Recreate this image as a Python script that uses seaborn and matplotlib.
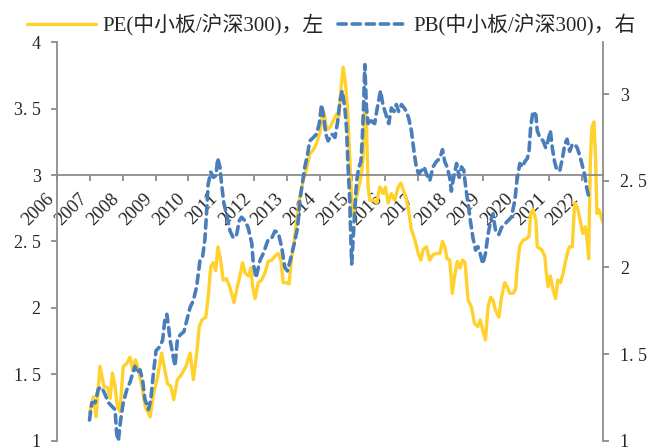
import matplotlib
matplotlib.use("Agg")
import matplotlib.pyplot as plt
import matplotlib.transforms as mtransforms
import seaborn as sns

# PE ratio (中小板/沪深300), left axis
pe_year = [2006.98, 2007.10, 2007.18, 2007.30, 2007.42, 2007.53, 2007.61, 2007.68, 2007.76, 2007.83, 2007.91,
           2008.01, 2008.11, 2008.22, 2008.30, 2008.38, 2008.48, 2008.58, 2008.68, 2008.83, 2008.93,
           2009.05, 2009.18, 2009.28, 2009.36, 2009.46, 2009.55, 2009.66, 2009.79, 2009.92,
           2010.05, 2010.15, 2010.25, 2010.33, 2010.41, 2010.53, 2010.60, 2010.68, 2010.76, 2010.83, 2010.90, 2010.98,
           2011.06, 2011.16, 2011.27, 2011.39, 2011.49, 2011.57, 2011.65, 2011.73, 2011.84, 2011.90, 2011.96,
           2012.03, 2012.13, 2012.23, 2012.33, 2012.43, 2012.54, 2012.64, 2012.74, 2012.82, 2012.89, 2012.99,
           2013.07, 2013.15, 2013.23, 2013.30, 2013.40, 2013.50, 2013.60, 2013.70, 2013.81, 2013.91,
           2014.01, 2014.11, 2014.16, 2014.21, 2014.32, 2014.42, 2014.52, 2014.59, 2014.65, 2014.72, 2014.79,
           2014.85, 2014.91, 2014.98,
           2015.03, 2015.10, 2015.18, 2015.28, 2015.33, 2015.38, 2015.43, 2015.48, 2015.53, 2015.63, 2015.74,
           2015.84, 2015.94,
           2016.01, 2016.09, 2016.19, 2016.29, 2016.40, 2016.48, 2016.55, 2016.62, 2016.70, 2016.80, 2016.91,
           2017.01, 2017.09, 2017.16, 2017.26, 2017.36, 2017.46, 2017.56, 2017.67, 2017.75, 2017.82, 2017.89, 2017.97,
           2018.05, 2018.12, 2018.20, 2018.28, 2018.36, 2018.44, 2018.53, 2018.63, 2018.73, 2018.83, 2018.90, 2018.98,
           2019.06, 2019.14, 2019.22, 2019.29, 2019.37, 2019.47, 2019.55, 2019.65, 2019.72, 2019.80, 2019.90, 2019.98,
           2020.03, 2020.11, 2020.21, 2020.31, 2020.39, 2020.44, 2020.51, 2020.60, 2020.64, 2020.77, 2020.87,
           2020.92, 2020.97,
           2021.04, 2021.12, 2021.20, 2021.27, 2021.35, 2021.43, 2021.51, 2021.59, 2021.63, 2021.71, 2021.78,
           2021.86, 2021.95,
           2022.03, 2022.11, 2022.17, 2022.21, 2022.26, 2022.31, 2022.37, 2022.42, 2022.46, 2022.52, 2022.56, 2022.65]
pe_val = [1.21, 1.33, 1.18, 1.56, 1.41, 1.40, 1.32, 1.51, 1.41, 1.26, 1.22,
          1.56, 1.58, 1.63, 1.53, 1.61, 1.53, 1.41, 1.26, 1.18, 1.35,
          1.47, 1.66, 1.53, 1.43, 1.41, 1.31, 1.46, 1.50, 1.56,
          1.66, 1.46, 1.66, 1.86, 1.91, 1.93, 2.08, 2.31, 2.34, 2.28, 2.46, 2.36,
          2.21, 2.22, 2.15, 2.04, 2.16, 2.24, 2.34, 2.26, 2.24, 2.30, 2.16,
          2.07, 2.19, 2.21, 2.26, 2.35, 2.36, 2.39, 2.41, 2.36, 2.19, 2.19,
          2.18, 2.39, 2.51, 2.66, 2.84, 2.96, 3.04, 3.16, 3.19, 3.24,
          3.32, 3.49, 3.44, 3.34, 3.36, 3.41, 3.46, 3.44, 3.64, 3.81, 3.69,
          3.51, 3.19, 2.81,
          2.69, 2.81, 2.89, 3.01, 3.14, 3.51, 3.39, 2.91, 2.81, 2.81, 2.79,
          2.91, 2.86,
          2.91, 2.79, 2.86, 2.81, 2.91, 2.94, 2.89, 2.84, 2.76, 2.59, 2.51,
          2.41, 2.36, 2.44, 2.46, 2.36, 2.40, 2.41, 2.41, 2.50, 2.46, 2.37, 2.36,
          2.11, 2.24, 2.35, 2.30, 2.36, 2.34, 2.06, 2.01, 1.88, 1.86, 1.91, 1.83,
          1.76, 2.01, 2.08, 2.06, 1.98, 1.93, 2.08, 2.19, 2.16, 2.11, 2.11, 2.14,
          2.31, 2.47, 2.51, 2.52, 2.54, 2.71, 2.74, 2.66, 2.46, 2.44, 2.39,
          2.26, 2.16,
          2.24, 2.14, 2.07, 2.21, 2.19, 2.26, 2.36, 2.44, 2.46, 2.46, 2.79,
          2.76, 2.66,
          2.56, 2.61, 2.49, 2.37, 3.11, 3.36, 3.40, 3.14, 2.71, 2.74, 2.71, 2.64]

# PB ratio (中小板/沪深300), right axis
pb_year = [2006.98, 2007.05, 2007.15, 2007.25, 2007.35, 2007.45, 2007.56, 2007.66, 2007.76, 2007.81, 2007.86, 2007.93,
           2008.01, 2008.11, 2008.22, 2008.30, 2008.37, 2008.44, 2008.52, 2008.60, 2008.67, 2008.78, 2008.85, 2008.93,
           2009.01, 2009.11, 2009.21, 2009.28, 2009.34, 2009.39, 2009.44, 2009.52, 2009.59, 2009.66, 2009.74,
           2009.86, 2009.94,
           2010.05, 2010.15, 2010.25, 2010.35, 2010.43, 2010.50, 2010.55, 2010.60, 2010.68, 2010.76, 2010.84,
           2010.89, 2010.96,
           2011.01, 2011.08, 2011.16, 2011.27, 2011.37, 2011.47, 2011.55, 2011.62, 2011.72, 2011.82, 2011.93, 2011.98,
           2012.06, 2012.18, 2012.28, 2012.43, 2012.54, 2012.64, 2012.74, 2012.84, 2012.94,
           2013.02, 2013.13, 2013.23, 2013.33, 2013.40, 2013.47, 2013.55, 2013.63, 2013.70, 2013.81, 2013.91, 2013.99,
           2014.06, 2014.13, 2014.19, 2014.26, 2014.37, 2014.47, 2014.55, 2014.62, 2014.69, 2014.77, 2014.82,
           2014.87, 2014.92, 2014.95, 2014.98,
           2015.03, 2015.08, 2015.13, 2015.20, 2015.26, 2015.30, 2015.34, 2015.38, 2015.43, 2015.48, 2015.53,
           2015.60, 2015.68, 2015.76, 2015.86, 2015.93,
           2016.03, 2016.11, 2016.19, 2016.27, 2016.34, 2016.41, 2016.50, 2016.58, 2016.65, 2016.72, 2016.80,
           2016.88, 2016.95,
           2017.02, 2017.11, 2017.19, 2017.26, 2017.36, 2017.46, 2017.56, 2017.67, 2017.75, 2017.82, 2017.89, 2017.97,
           2018.02, 2018.09, 2018.18, 2018.26, 2018.33, 2018.40, 2018.46, 2018.53, 2018.60, 2018.68, 2018.76,
           2018.83, 2018.90, 2018.98,
           2019.06, 2019.14, 2019.22, 2019.29, 2019.37, 2019.47, 2019.55, 2019.65, 2019.75, 2019.85, 2019.96,
           2020.02, 2020.11, 2020.19, 2020.26, 2020.34, 2020.39, 2020.44, 2020.51, 2020.60, 2020.64, 2020.72,
           2020.82, 2020.90, 2020.97,
           2021.04, 2021.10, 2021.17, 2021.24, 2021.33, 2021.41, 2021.48, 2021.55, 2021.63, 2021.71, 2021.79,
           2021.86, 2021.93,
           2022.00, 2022.08, 2022.15, 2022.22]
pb_val = [1.12, 1.22, 1.22, 1.30, 1.31, 1.27, 1.22, 1.20, 1.18, 1.04, 1.00, 1.12,
          1.22, 1.29, 1.34, 1.39, 1.43, 1.39, 1.41, 1.35, 1.24, 1.18, 1.24, 1.39,
          1.52, 1.54, 1.58, 1.70, 1.73, 1.66, 1.58, 1.50, 1.43, 1.58, 1.61,
          1.63, 1.69,
          1.77, 1.81, 1.89, 2.04, 2.06, 2.16, 2.31, 2.48, 2.55, 2.52, 2.53,
          2.63, 2.58,
          2.48, 2.37, 2.31, 2.21, 2.17, 2.19, 2.27, 2.29, 2.27, 2.23, 2.14, 2.02,
          1.94, 2.04, 2.08, 2.16, 2.17, 2.21, 2.20, 2.12, 2.00,
          1.98, 2.06, 2.14, 2.23, 2.39, 2.48, 2.58, 2.65, 2.73, 2.75, 2.77, 2.83,
          2.94, 2.86, 2.77, 2.73, 2.77, 2.75, 2.84, 2.96, 3.02, 2.92, 2.81,
          2.58, 2.39, 2.19, 2.02,
          2.19, 2.35, 2.50, 2.58, 2.61, 2.73, 2.92, 3.17, 2.92, 2.83, 2.86,
          2.84, 2.83, 2.92, 3.02, 2.94,
          2.88, 2.83, 2.92, 2.90, 2.94, 2.90, 2.94, 2.92, 2.90, 2.86, 2.79,
          2.67, 2.58,
          2.54, 2.56, 2.58, 2.54, 2.50, 2.58, 2.61, 2.63, 2.68, 2.61, 2.58, 2.52,
          2.44, 2.52, 2.60, 2.52, 2.58, 2.56, 2.46, 2.37, 2.27, 2.17, 2.10,
          2.12, 2.08, 2.02,
          2.08, 2.19, 2.27, 2.31, 2.21, 2.19, 2.23, 2.25, 2.27, 2.29, 2.39,
          2.50, 2.60, 2.58, 2.61, 2.63, 2.67, 2.81, 2.90, 2.88, 2.79, 2.75,
          2.73, 2.69, 2.73,
          2.79, 2.69, 2.61, 2.56, 2.56, 2.63, 2.71, 2.74, 2.67, 2.71, 2.71,
          2.69, 2.65,
          2.60, 2.54, 2.46, 2.40]

years = list(range(2006, 2023))
left_ticks = [1, 1.5, 2, 2.5, 3, 3.5, 4]
left_labels = ["1", "1. 5", "2", "2. 5", "3", "3. 5", "4"]
right_ticks = [1, 1.5, 2, 2.5, 3]
right_labels = ["1", "1. 5", "2", "2. 5", "3"]

sns.set_theme(style="white")
plt.rcParams["font.family"] = ["Liberation Serif", "Noto Sans CJK SC"]

gray = "#8c8c8c"
yellow = "#FFD12A"
blue = "#4A7EBB"

fig = plt.figure(figsize=(6.52, 4.48), dpi=100)
ax = fig.add_axes([0.088, 0.016, 0.837, 0.890])
ax2 = ax.twinx()

sns.lineplot(x=pe_year, y=pe_val, ax=ax, color=yellow, linewidth=2.4, estimator=None, sort=False)
sns.lineplot(x=pb_year, y=pb_val, ax=ax2, color=blue, linewidth=2.6, estimator=None, sort=False,
             linestyle=(0, (2.3, 1.6)), dash_capstyle="round")

ax.set_xlim(2006, 2022.65)
ax.set_ylim(1, 4)
ax2.set_ylim(1, 3.3)

# x axis crosses the left axis at 3
ax.spines["bottom"].set_position(("data", 3))
for s in ["top", "right"]:
    ax.spines[s].set_visible(False)
for s in ["top", "left", "bottom"]:
    ax2.spines[s].set_visible(False)
for sp in [ax.spines["left"], ax.spines["bottom"], ax2.spines["right"]]:
    sp.set_color(gray)
    sp.set_linewidth(1.3)

ax.set_xticks(years)
ax.set_xticklabels([str(y) for y in years], rotation=45, ha="right", va="top", fontsize=13.5)
shift = mtransforms.ScaledTranslation(4 / 72, 0, fig.dpi_scale_trans)
for lab in ax.get_xticklabels():
    lab.set_transform(lab.get_transform() + shift)
ax.set_yticks(left_ticks)
ax.set_yticklabels(left_labels, fontsize=13)
ax2.set_yticks(right_ticks)
ax2.set_yticklabels(right_labels, fontsize=13)

ax.tick_params(axis="x", bottom=True, direction="out", length=4, width=1.3, color=gray, pad=7)
ax.tick_params(axis="y", left=True, direction="out", length=4, width=1.3, color=gray, pad=8)
ax2.tick_params(axis="y", right=True, direction="out", length=4, width=1.3, color=gray, pad=8)
ax.set_xlabel("")
ax.set_ylabel("")
ax2.set_ylabel("")

handles = [ax.lines[0], ax2.lines[0]]
labels = ["PE(中小板/沪深300)，左", "PB(中小板/沪深300)，右"]
fig.legend(handles, labels, loc="upper center", bbox_to_anchor=(0.508, 1.005), ncol=2, frameon=False,
           fontsize=15, handlelength=3.3, columnspacing=0.7, handletextpad=0.3, borderpad=0.3)

fig.savefig("out.png", dpi=100)
